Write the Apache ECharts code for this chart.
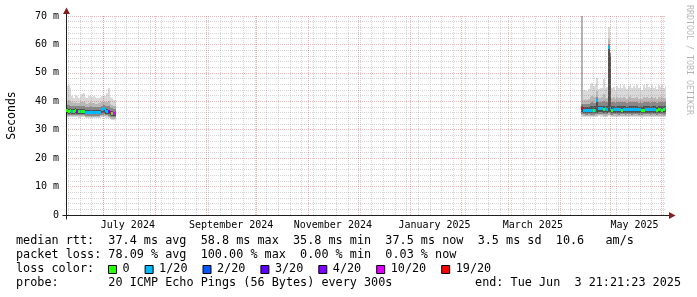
<!DOCTYPE html>
<html><head><meta charset="utf-8">
<script src="https://cdn.jsdelivr.net/npm/echarts@6/dist/echarts.min.js"></script>
<style>html,body{margin:0;padding:0;background:#fff}#c{width:697px;height:297px}</style>
</head><body><div id="c"></div>
<script>
// ---------------- data ----------------
const endTime = '2025-06-03T21:21:23Z';
const spanDays = 360;
const yTicks = [0, 10, 20, 30, 40, 50, 60, 70];
const xLabelMonths = ['2024-07-01', '2024-09-01', '2024-11-01', '2025-01-01', '2025-03-01', '2025-05-01'];
const xTickLabels = ['July 2024', 'September 2024', 'November 2024', 'January 2025', 'March 2025', 'May 2025'];

// segment 1: daily values from 2024-06-09
const seg1Start = '2024-06-09';
const seg1Median = [36.6,36.5,36.6,36.4,36.5,36.6,36.4,36.5,36.3,36.5,36.4,36.2,36.1,36.1,36.0,36.1,36.0,36.1,36.2,36.1,36.2,37.0,37.4,36.6,36.5,36.3,35.9,35.8,35.8,35.9];
const seg1Loss   = [0,0,0,1,0,0,4,0,1,0,0,1,1,1,1,1,1,1,1,1,1,1,1,1,1,4,19,0,10,10];
const seg1Max = [45.5,45.8,44.6,42.0,41.3,42.2,41.8,41.3,41.6,42.5,42.8,41.5,41.2,42.0,42.3,41.6,42.0,41.4,41.0,41.2,41.5,42.0,41.7,41.9,43.0,44.8,41.5,41.0,40.5,40.4];
const seg1Hi2 = [40.2,40.5,40.0,39.6,39.4,39.7,39.5,39.3,39.6,39.8,39.9,39.4,39.2,39.5,39.6,39.3,39.5,39.2,39.1,39.3,39.4,39.8,39.9,39.6,39.8,40.0,39.2,38.8,38.5,38.4];
const seg1Hi3 = [38.6,38.7,38.5,38.3,38.2,38.4,38.3,38.2,38.3,38.4,38.4,38.1,38.0,38.1,38.2,38.0,38.1,38.0,37.9,38.0,38.1,38.5,38.8,38.3,38.3,38.2,37.8,37.5,37.4,37.4];
const seg1Hi4 = [37.5,37.4,37.5,37.3,37.4,37.5,37.3,37.4,37.2,37.4,37.3,37.1,37.0,37.0,37.0,37.0,36.9,37.0,37.1,37.0,37.1,37.8,38.1,37.4,37.3,37.1,36.7,36.5,36.4,36.5];
const seg1Lo4 = [35.8,35.7,35.8,35.7,35.7,35.8,35.7,35.7,35.6,35.7,35.7,35.5,35.5,35.4,35.4,35.5,35.4,35.5,35.5,35.5,35.6,35.8,35.9,35.7,35.6,35.4,35.1,34.9,34.9,35.0];
const seg1Lo3 = [35.3,35.2,35.3,35.2,35.2,35.3,35.2,35.2,35.1,35.2,35.2,35.0,35.0,34.9,34.9,35.0,34.9,35.0,35.0,35.0,35.1,35.3,35.4,35.2,35.1,34.9,34.6,34.4,34.4,34.5];
const seg1Lo2 = [34.8,34.8,34.9,34.8,34.8,34.9,34.8,34.7,34.7,34.8,34.8,34.6,34.6,34.5,34.5,34.6,34.5,34.6,34.6,34.6,34.7,34.8,34.9,34.7,34.7,34.5,34.1,33.9,33.9,34.0];
const seg1Min = [34.3,34.3,34.4,34.3,34.3,34.4,34.3,34.2,34.2,34.3,34.3,34.1,34.1,34.0,34.0,34.1,34.0,34.1,34.1,34.1,34.2,34.3,34.4,34.2,34.2,34.0,33.6,33.4,33.4,33.5];

// segment 2: daily values from 2025-04-14
const seg2Start = '2025-04-14';
const seg2Median = [37.3,36.8,36.8,36.7,36.8,36.7,36.8,36.7,36.8,40.4,37.5,37.4,37.3,37.2,37.3,37.2,58.8,37.6,36.9,37.0,37.1,37.0,37.1,37.0,36.9,37.1,37.0,37.1,37.0,37.2,37.1,37.0,37.1,37.0,37.1,37.0,36.9,36.9,37.1,37.0,37.2,37.1,37.0,37.1,37.2,36.9,37.0,37.1,36.9,37.0,37.5];
const seg2Loss   = [19,1,1,1,1,1,1,0,1,1,1,1,1,0,1,1,1,1,0,1,1,1,1,1,0,1,1,1,1,1,1,1,1,1,1,1,0,0,1,1,1,1,1,1,1,0,0,1,0,0,1];
const seg2Max = [72,43.8,44.0,43.5,44.2,45.8,46.3,45.5,46.0,48.3,44.2,44.5,44.8,47.8,44.3,45.0,66.0,45.0,44.6,45.2,44.0,45.5,44.5,46.0,44.8,45.8,45.0,44.2,45.5,46.2,44.6,45.4,44.8,45.8,44.5,45.2,44.0,45.6,44.8,46.0,45.2,44.5,45.8,44.7,45.5,44.3,45.7,44.9,45.9,44.6,45.3];
const seg2Hi2 = [72,40.6,40.8,40.5,40.9,41.5,41.8,41.4,41.6,43.5,41.0,41.2,41.4,42.5,41.1,41.3,62.0,41.5,41.2,41.4,40.9,41.5,41.0,41.6,41.2,41.5,41.3,40.9,41.4,41.7,41.0,41.3,41.1,41.5,40.9,41.3,40.8,41.4,41.1,41.6,41.3,41.0,41.5,41.1,41.4,40.9,41.5,41.2,41.6,41.0,41.3];
const seg2Hi3 = [39.2,39.1,39.2,39.0,39.2,39.5,39.6,39.4,39.5,41.5,39.6,39.7,39.8,40.0,39.6,39.7,60.0,57.0,39.6,39.7,39.5,39.8,39.6,39.9,39.7,39.8,39.7,39.5,39.8,39.9,39.6,39.8,39.7,39.9,39.5,39.7,39.4,39.8,39.6,39.9,39.7,39.5,39.8,39.6,39.8,39.5,39.8,39.6,39.9,39.6,39.8];
const seg2Hi4 = [38.2,38.0,38.1,37.9,38.1,38.2,38.3,38.2,38.3,40.8,38.5,38.5,38.4,38.5,38.3,38.4,59.3,56.0,38.2,38.3,38.1,38.3,38.2,38.4,38.2,38.3,38.2,38.1,38.3,38.4,38.2,38.3,38.2,38.4,38.1,38.3,38.0,38.3,38.2,38.4,38.3,38.1,38.3,38.2,38.3,38.1,38.4,38.2,38.4,38.2,38.5];
const seg2Lo4 = [36.2,35.9,35.9,35.8,35.9,35.8,35.9,35.8,35.9,36.0,36.3,36.2,36.1,36.0,36.1,36.0,36.4,36.3,35.9,36.0,35.9,36.0,35.9,36.0,35.9,36.0,35.9,35.9,36.0,36.0,35.9,36.0,35.9,36.0,35.9,36.0,35.8,36.0,35.9,36.0,36.0,35.9,36.0,35.9,36.0,35.9,36.0,35.9,36.0,35.9,36.1];
const seg2Lo3 = [35.6,35.4,35.3,35.3,35.4,35.2,35.3,35.3,35.4,35.5,35.7,35.6,35.6,35.5,35.5,35.4,35.8,35.7,35.3,35.4,35.4,35.5,35.3,35.4,35.4,35.5,35.3,35.4,35.5,35.4,35.3,35.5,35.4,35.4,35.3,35.5,35.2,35.4,35.4,35.5,35.4,35.3,35.5,35.4,35.4,35.3,35.5,35.4,35.4,35.3,35.5];
const seg2Lo2 = [35.1,34.9,34.8,34.8,34.9,34.7,34.8,34.8,34.9,35.0,35.2,35.1,35.1,35.0,35.0,34.9,35.3,35.2,34.8,34.9,34.9,35.0,34.8,34.9,34.9,35.0,34.8,34.9,35.0,34.9,34.8,35.0,34.9,34.9,34.8,35.0,34.7,34.9,34.9,35.0,34.9,34.8,35.0,34.9,34.9,34.8,35.0,34.9,34.9,34.8,35.0];
const seg2Min = [34.6,34.4,34.3,34.3,34.4,34.2,34.3,34.3,34.4,34.5,34.7,34.6,34.6,34.5,34.5,34.4,34.8,34.7,34.3,34.4,34.4,34.5,34.3,34.4,34.4,34.5,34.3,34.4,34.5,34.4,34.3,34.5,34.4,34.4,34.3,34.5,34.2,34.4,34.4,34.5,34.4,34.3,34.5,34.4,34.4,34.3,34.5,34.4,34.4,34.3,34.5];

const lossSteps  = [0, 1, 2, 3, 4, 10, 19];
const lossColors = ['#26ff00', '#00b8ff', '#0059ff', '#5e00ff', '#7e00ff', '#dd00ff', '#ff0000'];
const lossLabels = ['0', '1/20', '2/20', '3/20', '4/20', '10/20', '19/20'];

const legendRtt   = 'median rtt:  37.4 ms avg  58.8 ms max  35.8 ms min  37.5 ms now  3.5 ms sd  10.6   am/s';
const legendLoss  = 'packet loss: 78.09 % avg  100.00 % max  0.00 % min  0.03 % now';
const legendColor = 'loss color:';
const legendProbe = 'probe:       20 ICMP Echo Pings (56 Bytes) every 300s';
const legendEnd   = 'end: Tue Jun  3 21:21:23 2025';
const watermark   = 'RRDTOOL / TOBI OETIKER';

// ---------------- build ----------------
const DAY = 86400000;
const endMs = Date.parse(endTime);
const startMs = endMs - spanDays * DAY;
const MONO = '"DejaVu Sans Mono", monospace';
const smokeColors = ['#d9d9d9', '#b8b8b8', '#888888', '#505050'];
const MAJOR = 'rgba(222,79,79,0.42)';
const MINOR = 'rgba(143,143,143,0.38)';

function days(startStr, n) { const s = Date.parse(startStr + 'T00:00:00Z'); const a = []; for (let i = 0; i < n; i++) a.push(s + i * DAY); return a; }
function bucket(l) { for (let k = 0; k < lossSteps.length; k++) if (l <= lossSteps[k]) return k; return lossSteps.length - 1; }

const smokeData = [], medianData = [];
function addSeg(start, med, loss, mn, l2, l3, l4, h4, h3, h2, mx) {
  const d = days(start, med.length);
  for (let i = 0; i < d.length; i++) {
    smokeData.push([d[i], mn[i], l2[i], l3[i], l4[i], h4[i], h3[i], h2[i], mx[i]]);
    medianData.push([d[i], med[i], bucket(loss[i])]);
  }
}
addSeg(seg1Start, seg1Median, seg1Loss, seg1Min, seg1Lo2, seg1Lo3, seg1Lo4, seg1Hi4, seg1Hi3, seg1Hi2, seg1Max);
addSeg(seg2Start, seg2Median, seg2Loss, seg2Min, seg2Lo2, seg2Lo3, seg2Lo4, seg2Hi4, seg2Hi3, seg2Hi2, seg2Max);

// vertical grid: Mondays (minor) and month starts (major)
const vGrid = [];
for (let t = Date.UTC(2024, 5, 10); t <= endMs; t += 7 * DAY) if (t >= startMs) vGrid.push([t, 0]);
for (let y = 2024, m = 6; ; m++) { if (m > 11) { m = 0; y++; } const t = Date.UTC(y, m, 1); if (t > endMs) break; vGrid.push([t, 1]); }

const xLabelData = xLabelMonths.map((s, i) => [Date.parse(s + 'T00:00:00Z') + 15 * DAY, i]);

function clipR(r, cs) { return echarts.graphic.clipRectByRect(r, { x: cs.x, y: cs.y, width: cs.width, height: cs.height }); }

const chart = echarts.init(document.getElementById('c'), null, { renderer: 'canvas' });
const option = {
  animation: false,
  backgroundColor: '#ffffff',
  grid: { left: 66, right: 31, top: 16, bottom: 82, containLabel: false, outerBoundsMode: 'none' },
  xAxis: {
    type: 'time', min: startMs, max: endMs, z: 3,
    axisLine: { show: true, lineStyle: { color: '#1f1f1f', width: 1 } },
    axisTick: { show: false },
    splitLine: { show: false },
    axisLabel: { show: false }
  },
  yAxis: {
    type: 'value', min: 0, max: 70, interval: 10, z: 3,
    name: 'Seconds', nameLocation: 'middle', nameGap: 48, nameRotate: 90,
    nameTextStyle: { fontFamily: MONO, fontSize: 11.5, color: '#000' },
    axisLine: { show: true, lineStyle: { color: '#1f1f1f', width: 1 } },
    axisTick: { show: false },
    axisLabel: { fontFamily: MONO, fontSize: 10, color: '#000', margin: 7, formatter: v => yTicks.includes(v) ? (v === 0 ? '0' : v + ' m') : '' },
    splitLine: { show: true, lineStyle: { color: MAJOR, width: 1, type: [1, 1] } },
    minorTick: { show: false, splitNumber: 5 },
    minorSplitLine: { show: true, lineStyle: { color: MINOR, width: 1, type: [1, 1] } }
  },
  series: [
    {
      type: 'custom', name: 'smoke', z: 1, silent: true,
      data: smokeData, encode: { x: 0, y: [1, 8] },
      renderItem: function (params, api) {
        const t = api.value(0);
        const x0 = Math.round(api.coord([t, 0])[0]);
        const x1 = Math.round(api.coord([t + DAY, 0])[0]);
        const cs = params.coordSys;
        const children = [];
        for (let k = 0; k < 4; k++) {
          const lo = api.value(1 + k), hi = api.value(8 - k);
          const yHi = Math.round(api.coord([t, hi])[1]);
          const yLo = Math.round(api.coord([t, lo])[1]);
          const r = clipR({ x: x0, y: yHi, width: x1 - x0, height: yLo - yHi }, cs);
          if (r) children.push({ type: 'rect', shape: r, style: { fill: smokeColors[k] } });
        }
        return { type: 'group', children };
      }
    },
    {
      type: 'custom', name: 'vgrid', z: 3, silent: true,
      data: vGrid, encode: { x: 0 },
      renderItem: function (params, api) {
        const t = api.value(0), major = api.value(1);
        const top = api.coord([t, 70]), bot = api.coord([t, 0]);
        const x = Math.round(top[0]) + 0.5;
        return { type: 'line', shape: { x1: x, y1: top[1], x2: x, y2: bot[1] },
          style: { stroke: major ? MAJOR : MINOR, lineWidth: 1, lineDash: [1, 1] } };
      }
    },
    {
      type: 'custom', name: 'median', z: 5, silent: true,
      data: medianData, encode: { x: 0, y: 1 },
      renderItem: function (params, api) {
        const t = api.value(0), v = api.value(1), b = api.value(2);
        const x0 = Math.round(api.coord([t, v])[0]);
        const x1 = Math.round(api.coord([t + DAY, v])[0]);
        const yc = api.coord([t, v])[1];
        const r = clipR({ x: x0, y: Math.round(yc - 1.5), width: x1 - x0, height: 3 }, params.coordSys);
        return r ? { type: 'rect', shape: r, style: { fill: lossColors[b] } } : null;
      }
    },
    {
      type: 'custom', name: 'xlabels', z: 5, silent: true, clip: false,
      data: xLabelData, encode: { x: 0 },
      renderItem: function (params, api) {
        const p = api.coord([api.value(0), 0]);
        return { type: 'text', x: p[0], y: p[1] + 5,
          style: { text: xTickLabels[api.value(1)], font: '10px ' + MONO, fill: '#000', align: 'center', verticalAlign: 'top' } };
      }
    }
  ]
};
chart.setOption(option);

// axis extensions + arrows, legend texts
const o  = chart.convertToPixel({ gridIndex: 0 }, [startMs, 0]);
const xe = chart.convertToPixel({ gridIndex: 0 }, [endMs, 0]);
const yt = chart.convertToPixel({ gridIndex: 0 }, [startMs, 70]);
const ax = Math.round(o[0]) + 0.5, ay = Math.round(o[1]) + 0.5;
const g = [];
g.push({ type: 'line', shape: { x1: ax - 4, y1: ay, x2: xe[0] + 4, y2: ay }, style: { stroke: '#1f1f1f', lineWidth: 1 } });
g.push({ type: 'line', shape: { x1: ax, y1: ay + 4, x2: ax, y2: yt[1] - 4 }, style: { stroke: '#1f1f1f', lineWidth: 1 } });
g.push({ type: 'polygon', shape: { points: [[xe[0] + 3, ay - 3.5], [xe[0] + 9.5, ay], [xe[0] + 3, ay + 3.5]] }, style: { fill: '#801f1f' } });
g.push({ type: 'polygon', shape: { points: [[ax - 3.5, yt[1] - 2], [ax, yt[1] - 8.5], [ax + 3.5, yt[1] - 2]] }, style: { fill: '#801f1f' } });

const LF = '11.8px ' + MONO, CW = 7.1;
function txt(s, x, y, align) { g.push({ type: 'text', x: x, y: y, style: { text: s, font: LF, fill: '#000', align: align || 'left', verticalAlign: 'middle' } }); }
txt(legendRtt, 16, 241);
txt(legendLoss, 16, 255);
txt(legendColor, 16, 269);
txt(legendProbe, 16, 283);
txt(legendEnd, 681, 283, 'right');
let bx = 108;
for (let k = 0; k < lossLabels.length; k++) {
  g.push({ type: 'rect', shape: { x: bx + 0.5, y: 265.5, width: 8, height: 8 }, style: { fill: lossColors[k], stroke: '#000', lineWidth: 1 } });
  txt(lossLabels[k], bx + 14.5, 269);
  bx = bx + 14.5 + lossLabels[k].length * CW + 15;
}
g.push({ type: 'text', x: 689, y: 5, rotation: -Math.PI / 2, style: { text: watermark, font: '8.3px ' + MONO, fill: 'rgba(0,0,0,0.3)', align: 'left', verticalAlign: 'middle' } });
chart.setOption({ graphic: { elements: g } });
</script>
</body></html>
